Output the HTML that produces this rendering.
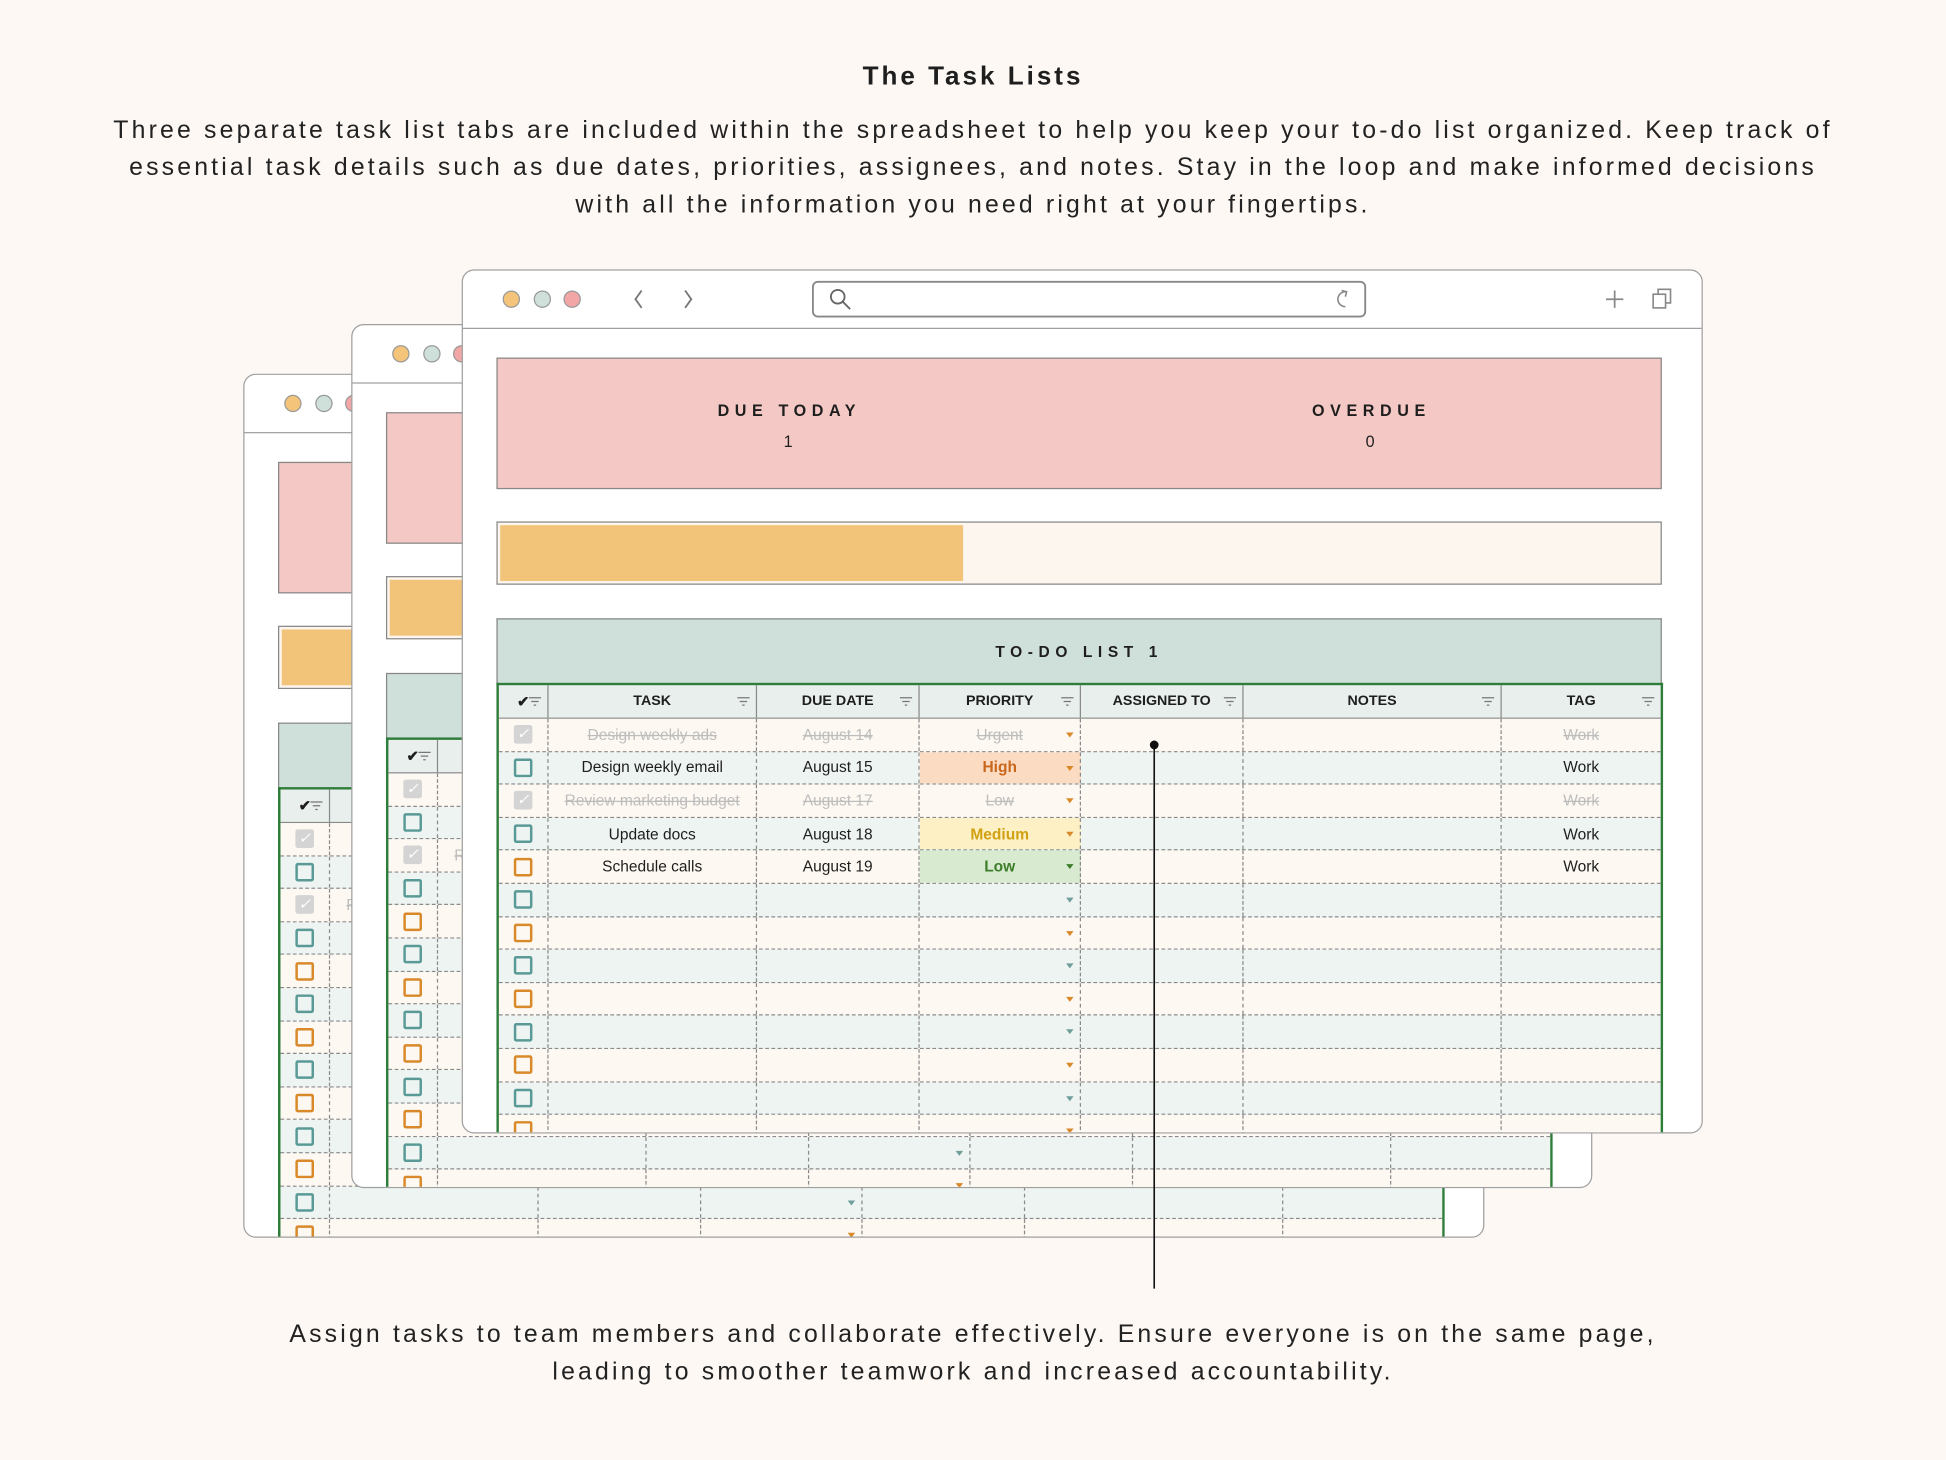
<!DOCTYPE html>
<html><head><meta charset="utf-8"><style>
html,body{margin:0;padding:0;background:#fdf8f4;}
body{width:1946px;height:1460px;overflow:hidden;position:relative;font-family:"Liberation Sans",sans-serif;color:#1e1e1e;}
#s{position:absolute;left:0;top:0;width:1568px;height:1176px;transform:scale(1.2411,1.2415);transform-origin:0 0;}
.h1{position:absolute;left:0;width:1568px;top:50px;text-align:center;font-weight:bold;font-size:21px;letter-spacing:2.4px;}
.p{position:absolute;left:0;width:1568px;text-align:center;font-size:20px;letter-spacing:2.55px;line-height:30px;color:#222;}
.win{position:absolute;width:1000px;height:696px;background:#fff;border:1.5px solid #a0a0a0;border-radius:10px;overflow:hidden;box-sizing:border-box;}
.tb{position:absolute;left:0;top:0;width:100%;height:46px;border-bottom:1.5px solid #a0a0a0;}
.pink{position:absolute;left:27px;top:70px;width:939px;height:106px;background:#f4c9c5;border:1.2px solid #888;box-sizing:border-box;}
.lab{position:absolute;width:300px;text-align:center;font-weight:bold;font-size:13px;letter-spacing:4.5px;}
.num{position:absolute;width:300px;text-align:center;font-size:13px;}
.bar{position:absolute;left:27px;top:202px;width:939px;height:51px;background:#fdf6ef;border:1.2px solid #888;box-sizing:border-box;}
.bar i{position:absolute;left:2px;top:2px;width:373px;height:45px;background:#f2c47a;}
.gh{position:absolute;left:27px;top:280px;width:939px;height:54px;background:#cfdfda;border:1.2px solid #888;border-bottom:none;box-sizing:border-box;text-align:center;font-weight:bold;font-size:12.5px;letter-spacing:4.5px;line-height:52px;}
.tbl{position:absolute;left:27px;top:332px;width:940px;height:400px;border:2px solid #2e7d3a;border-bottom:none;box-sizing:border-box;}
.row{display:flex;height:26.6px;box-sizing:border-box;border-bottom:1px dashed #8a8a8a;background:#fdf8f1;}
.row.e{background:#eef4f2;}
.row.hd{height:27px;background:#e8efec;border-bottom:1px solid #8a8a8a;font-weight:bold;font-size:12px;}
.row>span{position:relative;display:flex;align-items:center;justify-content:center;box-sizing:border-box;border-right:1px dashed #8a8a8a;font-size:12.5px;white-space:nowrap;overflow:hidden;}
.row.hd>span{border-right:1px solid #8a8a8a;font-size:11.5px;}
.row>span:nth-child(1){width:40px;} .row>span:nth-child(2){width:168px;} .row>span:nth-child(3){width:131px;}
.row>span:nth-child(4){width:130px;} .row>span:nth-child(5){width:131px;} .row>span:nth-child(6){width:208px;} .row>span:nth-child(7){width:128px;border-right:none;}
.cb{display:inline-block;width:11px;height:11px;border:2px solid #5a9a96;border-radius:2px;}
.o .cb{border-color:#d9892a;}
.ck{display:inline-block;width:15px;height:15px;background:#d4d4d4;border-radius:2px;color:#fff;font-size:12px;line-height:15px;text-align:center;}
.dn{color:#bdbdbd;text-decoration:line-through;}
.ar{position:absolute;right:5px;top:11px;width:0;height:0;border-left:3.5px solid transparent;border-right:3.5px solid transparent;border-top:4px solid #d9892a;}
.e .ar{border-top-color:#6f9e9b;}
.fl{position:absolute;right:5px;top:9px;}
.hi{background:#fbdcc3;color:#c8661c;font-weight:bold;}
.me{background:#fdf0c4;color:#d1a112;font-weight:bold;}
.lo{background:#d8ebd0;color:#3c7d2a;font-weight:bold;}
</style></head><body><div id="s">
<div class="h1">The Task Lists</div>
<div class="p" style="top:90px;">Three separate task list tabs are included within the spreadsheet to help you keep your to-do list organized. Keep track of<br>essential task details such as due dates, priorities, assignees, and notes. Stay in the loop and make informed decisions<br>with all the information you need right at your fingertips.</div>

<div class="win" style="left:196px;top:301px;">
<div class="tb"><svg width="1000" height="46"><circle cx="39" cy="23" r="6.5" fill="#f3c47a" stroke="#999"/><circle cx="64" cy="23" r="6.5" fill="#cfe0da" stroke="#999"/><circle cx="88" cy="23" r="6.5" fill="#f2a6a6" stroke="#999"/><polyline points="144,16 139,23 144,30" fill="none" stroke="#777" stroke-width="1.5"/><polyline points="179,16 184,23 179,30" fill="none" stroke="#777" stroke-width="1.5"/><rect x="282" y="9" width="445" height="28" rx="4" fill="#fff" stroke="#888" stroke-width="1.5"/></svg></div>
<div class="pink"><div class="lab" style="left:85px;top:34px;">DUE TODAY</div><div class="num" style="left:84px;top:59px;">1</div><div class="lab" style="left:554px;top:34px;">OVERDUE</div><div class="num" style="left:553px;top:59px;">0</div></div>
<div class="bar"><i></i></div>
<div class="gh">TO-DO LIST 3</div>
<div class="tbl">
<div class="row hd"><span>✔<svg class="fl" width="10" height="8"><path d="M0 1H10M2 4H8M4 7H6" stroke="#777"/></svg></span><span>TASK</span><span>DUE DATE</span><span>PRIORITY</span><span>ASSIGNED TO</span><span>NOTES</span><span>TAG</span></div>
<div class="row"><span><i class="ck">✓</i></span><span class="dn">Design weekly ads</span><span class="dn">August 14</span><span><i class="ar"></i></span><span></span><span></span><span></span></div>
<div class="row e"><span><i class="cb"></i></span><span></span><span></span><span><i class="ar"></i></span><span></span><span></span><span></span></div>
<div class="row"><span><i class="ck">✓</i></span><span class="dn">Review marketing budget</span><span></span><span><i class="ar"></i></span><span></span><span></span><span></span></div>
<div class="row e"><span><i class="cb"></i></span><span></span><span></span><span><i class="ar"></i></span><span></span><span></span><span></span></div>
<div class="row o"><span><i class="cb"></i></span><span></span><span></span><span><i class="ar"></i></span><span></span><span></span><span></span></div>
<div class="row e"><span><i class="cb"></i></span><span></span><span></span><span><i class="ar"></i></span><span></span><span></span><span></span></div>
<div class="row o"><span><i class="cb"></i></span><span></span><span></span><span><i class="ar"></i></span><span></span><span></span><span></span></div>
<div class="row e"><span><i class="cb"></i></span><span></span><span></span><span><i class="ar"></i></span><span></span><span></span><span></span></div>
<div class="row o"><span><i class="cb"></i></span><span></span><span></span><span><i class="ar"></i></span><span></span><span></span><span></span></div>
<div class="row e"><span><i class="cb"></i></span><span></span><span></span><span><i class="ar"></i></span><span></span><span></span><span></span></div>
<div class="row o"><span><i class="cb"></i></span><span></span><span></span><span><i class="ar"></i></span><span></span><span></span><span></span></div>
<div class="row e"><span><i class="cb"></i></span><span></span><span></span><span><i class="ar"></i></span><span></span><span></span><span></span></div>
<div class="row o"><span><i class="cb"></i></span><span></span><span></span><span><i class="ar"></i></span><span></span><span></span><span></span></div>
</div></div>

<div class="win" style="left:283px;top:261px;">
<div class="tb"><svg width="1000" height="46"><circle cx="39" cy="23" r="6.5" fill="#f3c47a" stroke="#999"/><circle cx="64" cy="23" r="6.5" fill="#cfe0da" stroke="#999"/><circle cx="88" cy="23" r="6.5" fill="#f2a6a6" stroke="#999"/><polyline points="144,16 139,23 144,30" fill="none" stroke="#777" stroke-width="1.5"/><polyline points="179,16 184,23 179,30" fill="none" stroke="#777" stroke-width="1.5"/><rect x="282" y="9" width="445" height="28" rx="4" fill="#fff" stroke="#888" stroke-width="1.5"/></svg></div>
<div class="pink"><div class="lab" style="left:85px;top:34px;">DUE TODAY</div><div class="num" style="left:84px;top:59px;">1</div><div class="lab" style="left:554px;top:34px;">OVERDUE</div><div class="num" style="left:553px;top:59px;">0</div></div>
<div class="bar"><i></i></div>
<div class="gh">TO-DO LIST 2</div>
<div class="tbl">
<div class="row hd"><span>✔<svg class="fl" width="10" height="8"><path d="M0 1H10M2 4H8M4 7H6" stroke="#777"/></svg></span><span>TASK</span><span>DUE DATE</span><span>PRIORITY</span><span>ASSIGNED TO</span><span>NOTES</span><span>TAG</span></div>
<div class="row"><span><i class="ck">✓</i></span><span class="dn">Design weekly ads</span><span class="dn">August 14</span><span><i class="ar"></i></span><span></span><span></span><span></span></div>
<div class="row e"><span><i class="cb"></i></span><span></span><span></span><span><i class="ar"></i></span><span></span><span></span><span></span></div>
<div class="row"><span><i class="ck">✓</i></span><span class="dn">Review marketing budget</span><span></span><span><i class="ar"></i></span><span></span><span></span><span></span></div>
<div class="row e"><span><i class="cb"></i></span><span></span><span></span><span><i class="ar"></i></span><span></span><span></span><span></span></div>
<div class="row o"><span><i class="cb"></i></span><span></span><span></span><span><i class="ar"></i></span><span></span><span></span><span></span></div>
<div class="row e"><span><i class="cb"></i></span><span></span><span></span><span><i class="ar"></i></span><span></span><span></span><span></span></div>
<div class="row o"><span><i class="cb"></i></span><span></span><span></span><span><i class="ar"></i></span><span></span><span></span><span></span></div>
<div class="row e"><span><i class="cb"></i></span><span></span><span></span><span><i class="ar"></i></span><span></span><span></span><span></span></div>
<div class="row o"><span><i class="cb"></i></span><span></span><span></span><span><i class="ar"></i></span><span></span><span></span><span></span></div>
<div class="row e"><span><i class="cb"></i></span><span></span><span></span><span><i class="ar"></i></span><span></span><span></span><span></span></div>
<div class="row o"><span><i class="cb"></i></span><span></span><span></span><span><i class="ar"></i></span><span></span><span></span><span></span></div>
<div class="row e"><span><i class="cb"></i></span><span></span><span></span><span><i class="ar"></i></span><span></span><span></span><span></span></div>
<div class="row o"><span><i class="cb"></i></span><span></span><span></span><span><i class="ar"></i></span><span></span><span></span><span></span></div>
</div></div>

<div class="win" style="left:372px;top:217px;">
<div class="tb"><svg width="1000" height="46"><circle cx="39" cy="23" r="6.5" fill="#f3c47a" stroke="#999"/><circle cx="64" cy="23" r="6.5" fill="#cfe0da" stroke="#999"/><circle cx="88" cy="23" r="6.5" fill="#f2a6a6" stroke="#999"/><polyline points="144,16 139,23 144,30" fill="none" stroke="#777" stroke-width="1.5"/><polyline points="179,16 184,23 179,30" fill="none" stroke="#777" stroke-width="1.5"/><rect x="282" y="9" width="445" height="28" rx="4" fill="#fff" stroke="#888" stroke-width="1.5"/><circle cx="302" cy="21" r="5.5" fill="none" stroke="#666" stroke-width="1.5"/><line x1="306" y1="25" x2="312" y2="31" stroke="#666" stroke-width="1.5"/><path d="M711 17 A6 6 0 1 0 711 29" fill="none" stroke="#888" stroke-width="1.3"/><polyline points="708,16 712,17 711,21" fill="none" stroke="#888" stroke-width="1.3"/><line x1="921" y1="23" x2="935" y2="23" stroke="#888" stroke-width="1.4"/><line x1="928" y1="16" x2="928" y2="30" stroke="#888" stroke-width="1.4"/><rect x="959" y="19" width="10" height="11" fill="#fff" stroke="#888" stroke-width="1.3"/><path d="M963 19 V15 H973 V26 H969" fill="none" stroke="#888" stroke-width="1.3"/></svg></div>
<div class="pink"><div class="lab" style="left:85px;top:34px;">DUE TODAY</div><div class="num" style="left:84px;top:59px;">1</div><div class="lab" style="left:554px;top:34px;">OVERDUE</div><div class="num" style="left:553px;top:59px;">0</div></div>
<div class="bar"><i></i></div>
<div class="gh">TO-DO LIST 1</div>
<div class="tbl">
<div class="row hd"><span>✔<svg class="fl" width="10" height="8"><path d="M0 1H10M2 4H8M4 7H6" stroke="#777"/></svg></span><span>TASK<svg class="fl" width="10" height="8"><path d="M0 1H10M2 4H8M4 7H6" stroke="#777"/></svg></span><span>DUE DATE<svg class="fl" width="10" height="8"><path d="M0 1H10M2 4H8M4 7H6" stroke="#777"/></svg></span><span>PRIORITY<svg class="fl" width="10" height="8"><path d="M0 1H10M2 4H8M4 7H6" stroke="#777"/></svg></span><span>ASSIGNED TO<svg class="fl" width="10" height="8"><path d="M0 1H10M2 4H8M4 7H6" stroke="#777"/></svg></span><span>NOTES<svg class="fl" width="10" height="8"><path d="M0 1H10M2 4H8M4 7H6" stroke="#777"/></svg></span><span>TAG<svg class="fl" width="10" height="8"><path d="M0 1H10M2 4H8M4 7H6" stroke="#777"/></svg></span></div>
<div class="row"><span><i class="ck">✓</i></span><span class="dn">Design weekly ads</span><span class="dn">August 14</span><span class="dn">Urgent<i class="ar"></i></span><span></span><span></span><span class="dn">Work</span></div>
<div class="row e"><span><i class="cb"></i></span><span>Design weekly email</span><span>August 15</span><span class="hi">High<i class="ar" style="border-top-color:#d9892a"></i></span><span></span><span></span><span>Work</span></div>
<div class="row"><span><i class="ck">✓</i></span><span class="dn">Review marketing budget</span><span class="dn">August 17</span><span class="dn">Low<i class="ar"></i></span><span></span><span></span><span class="dn">Work</span></div>
<div class="row e"><span><i class="cb"></i></span><span>Update docs</span><span>August 18</span><span class="me">Medium<i class="ar" style="border-top-color:#d9892a"></i></span><span></span><span></span><span>Work</span></div>
<div class="row o"><span><i class="cb"></i></span><span>Schedule calls</span><span>August 19</span><span class="lo">Low<i class="ar" style="border-top-color:#3c7d2a"></i></span><span></span><span></span><span>Work</span></div>
<div class="row e"><span><i class="cb"></i></span><span></span><span></span><span><i class="ar"></i></span><span></span><span></span><span></span></div>
<div class="row o"><span><i class="cb"></i></span><span></span><span></span><span><i class="ar"></i></span><span></span><span></span><span></span></div>
<div class="row e"><span><i class="cb"></i></span><span></span><span></span><span><i class="ar"></i></span><span></span><span></span><span></span></div>
<div class="row o"><span><i class="cb"></i></span><span></span><span></span><span><i class="ar"></i></span><span></span><span></span><span></span></div>
<div class="row e"><span><i class="cb"></i></span><span></span><span></span><span><i class="ar"></i></span><span></span><span></span><span></span></div>
<div class="row o"><span><i class="cb"></i></span><span></span><span></span><span><i class="ar"></i></span><span></span><span></span><span></span></div>
<div class="row e"><span><i class="cb"></i></span><span></span><span></span><span><i class="ar"></i></span><span></span><span></span><span></span></div>
<div class="row o"><span><i class="cb"></i></span><span></span><span></span><span><i class="ar"></i></span><span></span><span></span><span></span></div>
</div></div>

<svg style="position:absolute;left:0;top:0" width="1568" height="1176"><line x1="930" y1="600" x2="930" y2="1038" stroke="#111" stroke-width="1.3"/><circle cx="930" cy="600" r="3.5" fill="#111"/></svg>
<div class="p" style="top:1060px;">Assign tasks to team members and collaborate effectively. Ensure everyone is on the same page,<br>leading to smoother teamwork and increased accountability.</div>
</div></body></html>
